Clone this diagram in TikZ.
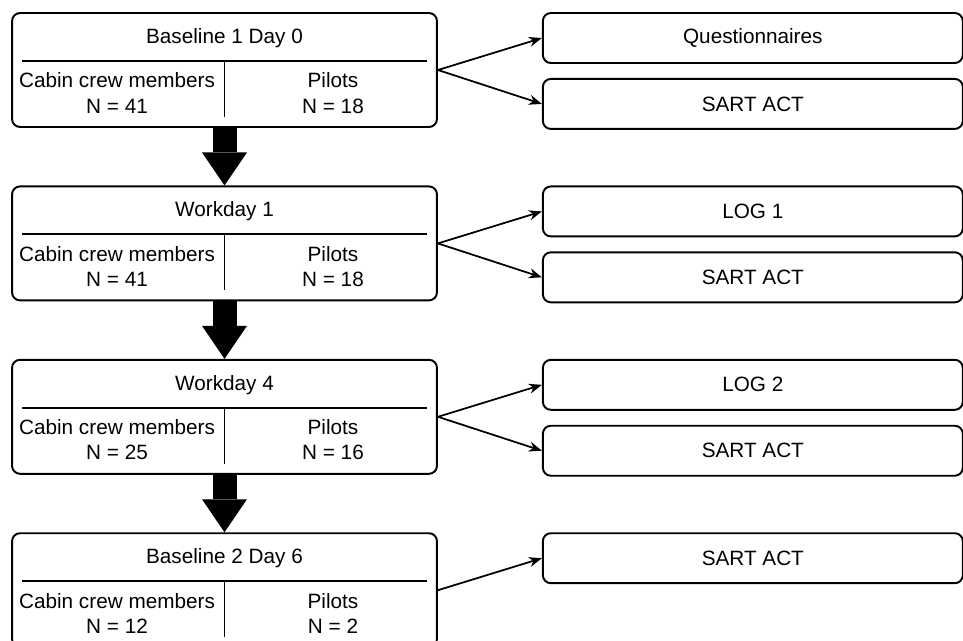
\documentclass[tikz,border=0pt]{standalone}
\usepackage{fontspec}
\setmainfont{Liberation Sans}
\usetikzlibrary{positioning,arrows.meta}

\begin{document}
\begin{tikzpicture}[x=0.02cm,y=-0.02cm,line width=1.1pt,node distance=1.15cm,
        font=\fontsize{11.8}{14.4}\selectfont,
        stagebox/.style={draw,rounded corners=0.16cm,minimum width=8.5cm,minimum height=2.28cm},
        testbox/.style={draw,rounded corners=0.16cm,minimum width=8.4cm,minimum height=1cm},
        grouptext/.style={align=center,inner sep=0pt},
        flow/.style={line width=0.48cm,-{Triangle[width=0.9cm,length=0.66cm,line width=0pt]}},
        fan/.style={line width=1pt,-{Stealth[length=2.6mm,width=2mm]}}]
        \useasboundingbox (0,0) rectangle (963,640);
        \clip (0,0) rectangle (963,640);

        % stages on the left
        \node[stagebox] (base1) at (224.5,70) {};
        \node[stagebox,below=of base1] (work1) {};
        \node[stagebox,below=of work1] (work4) {};
        \node[stagebox,below=of work4] (base2) {};

        \node (base1title) at ([yshift=0.64cm]base1.center) {Baseline 1 Day 0};
        \node[grouptext] (base1crew) at ([xshift=-2.15cm,yshift=-0.46cm]base1.center) {Cabin crew members\\N = 41};
        \node[grouptext] (base1pilot) at ([xshift=2.17cm,yshift=-0.46cm]base1.center) {Pilots\\N = 18};
        \draw ([xshift=0.22cm,yshift=0.18cm]base1.west) -- ([xshift=-0.22cm,yshift=0.18cm]base1.east);
        \draw ([yshift=0.18cm]base1.center) -- ([yshift=0.22cm]base1.south);

        \node (work1title) at ([yshift=0.64cm]work1.center) {Workday 1};
        \node[grouptext] (work1crew) at ([xshift=-2.15cm,yshift=-0.46cm]work1.center) {Cabin crew members\\N = 41};
        \node[grouptext] (work1pilot) at ([xshift=2.17cm,yshift=-0.46cm]work1.center) {Pilots\\N = 18};
        \draw ([xshift=0.22cm,yshift=0.18cm]work1.west) -- ([xshift=-0.22cm,yshift=0.18cm]work1.east);
        \draw ([yshift=0.18cm]work1.center) -- ([yshift=0.22cm]work1.south);

        \node (work4title) at ([yshift=0.64cm]work4.center) {Workday 4};
        \node[grouptext] (work4crew) at ([xshift=-2.15cm,yshift=-0.46cm]work4.center) {Cabin crew members\\N = 25};
        \node[grouptext] (work4pilot) at ([xshift=2.17cm,yshift=-0.46cm]work4.center) {Pilots\\N = 16};
        \draw ([xshift=0.22cm,yshift=0.18cm]work4.west) -- ([xshift=-0.22cm,yshift=0.18cm]work4.east);
        \draw ([yshift=0.18cm]work4.center) -- ([yshift=0.22cm]work4.south);

        \node (base2title) at ([yshift=0.64cm]base2.center) {Baseline 2 Day 6};
        \node[grouptext] (base2crew) at ([xshift=-2.15cm,yshift=-0.46cm]base2.center) {Cabin crew members\\N = 12};
        \node[grouptext] (base2pilot) at ([xshift=2.17cm,yshift=-0.46cm]base2.center) {Pilots\\N = 2};
        \draw ([xshift=0.22cm,yshift=0.18cm]base2.west) -- ([xshift=-0.22cm,yshift=0.18cm]base2.east);
        \draw ([yshift=0.18cm]base2.center) -- ([yshift=0.22cm]base2.south);

        % measures on the right
        \node[testbox,anchor=north west] (quest) at ([xshift=2.08cm]base1.north east) {Questionnaires};
        \node[testbox,below=0.28cm of quest] (sart1) {SART ACT};
        \node[testbox,anchor=north west] (log1) at ([xshift=2.08cm]work1.north east) {LOG 1};
        \node[testbox,below=0.28cm of log1] (sart2) {SART ACT};
        \node[testbox,anchor=north west] (log2) at ([xshift=2.08cm]work4.north east) {LOG 2};
        \node[testbox,below=0.28cm of log2] (sart3) {SART ACT};
        \node[testbox,anchor=north west] (sart4) at ([xshift=2.08cm]base2.north east) {SART ACT};

        \draw[flow] (base1) -- (work1);
        \draw[flow] (work1) -- (work4);
        \draw[flow] (work4) -- (base2);

        \draw[fan] (base1.east) -- (quest.west);
        \draw[fan] (base1.east) -- (sart1.west);
        \draw[fan] (work1.east) -- (log1.west);
        \draw[fan] (work1.east) -- (sart2.west);
        \draw[fan] (work4.east) -- (log2.west);
        \draw[fan] (work4.east) -- (sart3.west);
        \draw[fan] (base2.east) -- (sart4.west);
    \end{tikzpicture}
\end{document}
